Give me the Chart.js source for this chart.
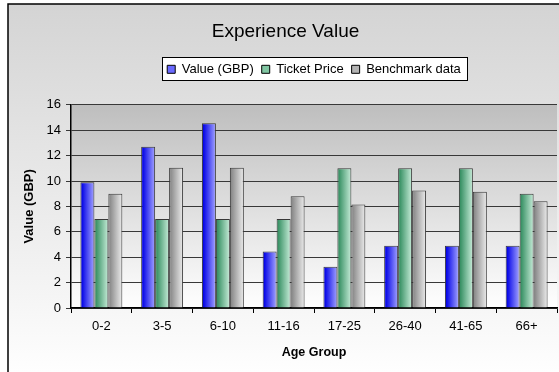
<!DOCTYPE html>
<html>
<head>
<meta charset="utf-8">
<script src="https://cdn.jsdelivr.net/npm/chart.js@4/dist/chart.umd.min.js"></script>
<style>
  html, body { margin: 0; padding: 0; background: #ffffff; }
  #wrap { width: 559px; height: 372px; position: relative; }
</style>
</head>
<body>
<div id="wrap"><canvas id="c" width="559" height="372"></canvas></div>
<script>
// Age groups along the x axis
const ageGroups = ['0-2', '3-5', '6-10', '11-16', '17-25', '26-40', '41-65', '66+'];
// Series values (GBP)
const valueGBP    = [9.9, 12.7, 14.55, 4.45, 3.25, 4.9, 4.9, 4.9];
const ticketPrice = [7, 7, 7, 7, 11, 11, 11, 9];
const benchmark   = [9, 11.05, 11.05, 8.8, 8.15, 9.25, 9.15, 8.4];
// Y axis ticks
const yMin = 0, yMax = 16, yStep = 2;

// Horizontal shading per series: dark edge -> light edge, plus a flat key colour
const seriesShade = [
  { dark: '#0808e8', light: '#a4a4ff', key: '#6a6aff' },
  { dark: '#3a9266', light: '#c6ecd8', key: '#80c6a2' },
  { dark: '#8c8c8c', light: '#ececec', key: '#b4b4b4' }
];

const LEGEND_PAD = 8;

// Outer frame, plot area and legend box backgrounds
const frameBackground = {
  id: 'frameBackground',
  afterLayout(chart) {
    // centre the legend row over the plot area
    const l = chart.legend, a = chart.chartArea;
    if (l) { l.left = a.left; l.right = a.right; l.adjustHitBoxes(); }
  },
  beforeDraw(chart) {
    const { ctx, chartArea: a } = chart;
    ctx.save();
    const g = ctx.createLinearGradient(0, 4, 0, 380);
    g.addColorStop(0, '#d4d4d4');
    g.addColorStop(0.8, '#f6f6f6');
    g.addColorStop(1, '#ffffff');
    ctx.fillStyle = g;
    ctx.fillRect(8, 4, 600, 400);
    ctx.strokeStyle = '#000000';
    ctx.lineWidth = 1.5;
    ctx.strokeRect(8, 4, 600, 400);

    const pg = ctx.createLinearGradient(0, a.top, 0, a.bottom);
    pg.addColorStop(0, '#bebebe');
    pg.addColorStop(1, '#ffffff');
    ctx.fillStyle = pg;
    ctx.fillRect(a.left, a.top, a.right - a.left, a.bottom - a.top);

    const lg = chart.legend;
    const hb = lg && lg.legendHitBoxes;
    if (hb && hb.length) {
      const first = hb[0], last = hb[hb.length - 1];
      const bx = Math.round(first.left) - 5;
      const bw = Math.round(last.left + last.width) + 6 - bx;
      const by = Math.round(lg.top + LEGEND_PAD + 6.5) - 12;
      ctx.fillStyle = '#ffffff';
      ctx.fillRect(bx, by, bw, 23);
      ctx.strokeStyle = '#000000';
      ctx.lineWidth = 1;
      ctx.strokeRect(bx + 0.5, by + 0.5, bw, 23);
    }
    ctx.restore();
  }
};

// Per-bar horizontal gradients, built from each bar's own position
const barShading = {
  id: 'barShading',
  beforeDatasetsDraw(chart) {
    const ctx = chart.ctx;
    chart.data.datasets.forEach((ds, i) => {
      const s = seriesShade[i];
      chart.getDatasetMeta(i).data.forEach(bar => {
        const x0 = bar.x - bar.width / 2, x1 = bar.x + bar.width / 2;
        const g = ctx.createLinearGradient(x0, 0, x1, 0);
        g.addColorStop(0, s.dark);
        g.addColorStop(0.12, s.dark);
        g.addColorStop(1, s.light);
        bar.options.backgroundColor = g;
      });
    });
  }
};

// Extra room between the legend row and the plot area
const legendSpacing = {
  id: 'legendSpacing',
  afterInit(chart) {
    const lg = chart.legend;
    if (!lg || lg._spaced) return;
    const fit = lg.fit.bind(lg);
    lg.fit = function () { fit(); this.height += 19; };
    lg._spaced = true;
  }
};

const font = 'Liberation Sans, Arial, sans-serif';

new Chart(document.getElementById('c'), {
  type: 'bar',
  data: {
    labels: ageGroups,
    datasets: [
      { label: 'Value (GBP)', data: valueGBP },
      { label: 'Ticket Price', data: ticketPrice },
      { label: 'Benchmark data', data: benchmark }
    ].map((d, i) => Object.assign(d, {
      backgroundColor: () => seriesShade[i].key,
      borderColor: '#383838',
      borderWidth: 1,
      borderSkipped: 'bottom',
      barPercentage: 1,
      categoryPercentage: 0.69
    }))
  },
  options: {
    responsive: false,
    animation: false,
    devicePixelRatio: 1,
    layout: { padding: { left: 14, right: 2, top: 0, bottom: 0 } },
    plugins: {
      title: {
        display: true,
        text: 'Experience Value',
        color: '#000000',
        font: { family: font, size: 19, weight: 'normal' },
        padding: { top: 20, bottom: 12 }
      },
      legend: {
        display: true,
        labels: {
          color: '#000000',
          font: { family: font, size: 13 },
          boxWidth: 8,
          boxHeight: 8,
          padding: LEGEND_PAD,
          generateLabels: (chart) => chart.data.datasets.map((d, i) => ({
            text: d.label,
            fillStyle: seriesShade[i].key,
            strokeStyle: '#000000',
            lineWidth: 1,
            datasetIndex: i
          }))
        }
      },
      tooltip: { enabled: false }
    },
    scales: {
      x: {
        afterFit: (scale) => { scale.height = 64; },
        grid: { offset: true, drawOnChartArea: false, drawTicks: true, tickLength: 5, color: '#000000' },
        border: { display: true, color: '#000000', width: 1.5 },
        ticks: { color: '#000000', font: { family: font, size: 13 }, padding: 6, maxRotation: 0 },
        title: { display: true, text: 'Age Group', color: '#000000', font: { family: font, size: 12.5, weight: 'bold' }, padding: { top: 4, bottom: 12 } }
      },
      y: {
        min: yMin,
        max: yMax,
        afterFit: (scale) => { scale.width = 57; },
        ticks: { stepSize: yStep, color: '#000000', font: { family: font, size: 13 }, padding: 5 },
        grid: { color: '#383838', lineWidth: 1, drawTicks: true, tickLength: 5 },
        border: { display: true, color: '#000000', width: 1.5 },
        title: { display: true, text: 'Value (GBP)', color: '#000000', font: { family: font, size: 13, weight: 'bold' }, padding: { top: 8, bottom: 4 } }
      }
    }
  },
  plugins: [frameBackground, barShading, legendSpacing]
});
</script>
</body>
</html>
